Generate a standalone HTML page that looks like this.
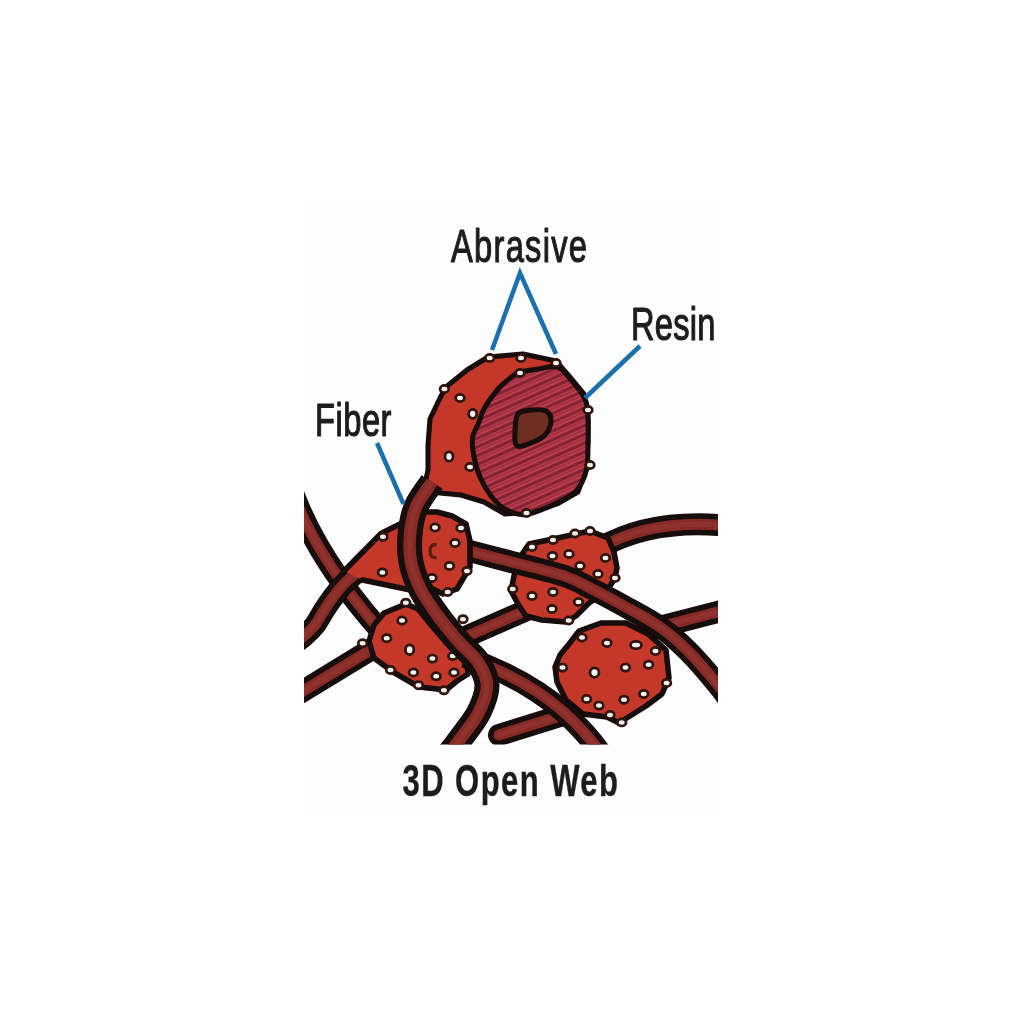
<!DOCTYPE html>
<html><head><meta charset="utf-8"><style>
html,body{margin:0;padding:0;background:#fff;width:1024px;height:1024px;overflow:hidden}
svg{display:block;font-family:"Liberation Sans",sans-serif}
</style></head><body>
<svg width="1024" height="1024" viewBox="0 0 1024 1024">
<defs><clipPath id="cl"><rect x="304" y="200" width="414" height="544.5"/></clipPath><filter id="soft" x="-5%" y="-5%" width="110%" height="110%"><feGaussianBlur stdDeviation="0.65"/></filter><pattern id="hatch" patternUnits="userSpaceOnUse" width="8" height="8" patternTransform="rotate(-24)"><rect width="8" height="8" fill="#bb3c4c"/><rect y="1" width="8" height="3" fill="#7e1f2e" opacity="0.9"/><rect y="5.2" width="8" height="1.8" fill="#962a3a" opacity="0.8"/></pattern></defs><rect x="304" y="203" width="413" height="613" fill="#fdfdfd"/><g filter="url(#soft)"><g clip-path="url(#cl)"><path d="M284,465 Q305,545 380,630" fill="none" stroke="#170707" stroke-width="22" stroke-linecap="butt"/><path d="M284,465 Q305,545 380,630" fill="none" stroke="#862c28" stroke-width="11" stroke-linecap="butt"/><path d="M284,465 Q305,545 380,630" fill="none" stroke="#93352f" stroke-width="5" stroke-linecap="butt" opacity="0.7"/><path d="M290,699 L380,644" fill="none" stroke="#170707" stroke-width="22" stroke-linecap="butt"/><path d="M290,699 L380,644" fill="none" stroke="#862c28" stroke-width="11" stroke-linecap="butt"/><path d="M290,699 L380,644" fill="none" stroke="#93352f" stroke-width="5" stroke-linecap="butt" opacity="0.7"/><path d="M440,648 L527,610" fill="none" stroke="#170707" stroke-width="22" stroke-linecap="butt"/><path d="M440,648 L527,610" fill="none" stroke="#862c28" stroke-width="11" stroke-linecap="butt"/><path d="M440,648 L527,610" fill="none" stroke="#93352f" stroke-width="5" stroke-linecap="butt" opacity="0.7"/><path d="M600,548 Q650,519 725,525.5" fill="none" stroke="#170707" stroke-width="22" stroke-linecap="butt"/><path d="M600,548 Q650,519 725,525.5" fill="none" stroke="#862c28" stroke-width="11" stroke-linecap="butt"/><path d="M600,548 Q650,519 725,525.5" fill="none" stroke="#93352f" stroke-width="5" stroke-linecap="butt" opacity="0.7"/><path d="M640,632 L725,610" fill="none" stroke="#170707" stroke-width="22" stroke-linecap="butt"/><path d="M640,632 L725,610" fill="none" stroke="#862c28" stroke-width="11" stroke-linecap="butt"/><path d="M640,632 L725,610" fill="none" stroke="#93352f" stroke-width="5" stroke-linecap="butt" opacity="0.7"/><path d="M499,735 Q525,727 560,716" fill="none" stroke="#170707" stroke-width="22" stroke-linecap="round"/><path d="M499,735 Q525,727 560,716" fill="none" stroke="#862c28" stroke-width="11" stroke-linecap="round"/><path d="M499,735 Q525,727 560,716" fill="none" stroke="#93352f" stroke-width="5" stroke-linecap="round" opacity="0.7"/><path d="M288.0,648.0 C293.3,644.0 299.5,639.8 304.0,636.0 C308.5,632.2 311.8,629.0 315.0,625.0 C318.2,621.0 320.3,616.2 323.0,612.0 C325.7,607.8 327.7,604.5 331.0,600.0 C334.3,595.5 338.8,589.5 343.0,585.0 C347.2,580.5 351.8,576.5 356.0,573.0 C360.2,569.5 364.0,567.0 368.0,564.0" fill="none" stroke="#170707" stroke-width="22" stroke-linecap="butt"/><path d="M288.0,648.0 C293.3,644.0 299.5,639.8 304.0,636.0 C308.5,632.2 311.8,629.0 315.0,625.0 C318.2,621.0 320.3,616.2 323.0,612.0 C325.7,607.8 327.7,604.5 331.0,600.0 C334.3,595.5 338.8,589.5 343.0,585.0 C347.2,580.5 351.8,576.5 356.0,573.0 C360.2,569.5 364.0,567.0 368.0,564.0" fill="none" stroke="#862c28" stroke-width="11" stroke-linecap="butt"/><path d="M288.0,648.0 C293.3,644.0 299.5,639.8 304.0,636.0 C308.5,632.2 311.8,629.0 315.0,625.0 C318.2,621.0 320.3,616.2 323.0,612.0 C325.7,607.8 327.7,604.5 331.0,600.0 C334.3,595.5 338.8,589.5 343.0,585.0 C347.2,580.5 351.8,576.5 356.0,573.0 C360.2,569.5 364.0,567.0 368.0,564.0" fill="none" stroke="#93352f" stroke-width="5" stroke-linecap="butt" opacity="0.7"/><path d="M374,625 L384,613 L406,604 L418,609 L431,625 L450,647 L467,664 L468,674 L457,681 L446,690 L419,687 L393,672 L374,658 L369,641 Z" fill="#c4382a" stroke="#170707" stroke-width="5.5" stroke-linejoin="round"/><ellipse cx="402" cy="620.5" rx="4.3" ry="3.6" fill="#f2f0ee" stroke="#2e120c" stroke-width="2.7"/><ellipse cx="386.7" cy="638.2" rx="4.3" ry="3.6" fill="#f2f0ee" stroke="#2e120c" stroke-width="2.7"/><ellipse cx="409.6" cy="649.7" rx="4.2" ry="4.9" fill="#f2f0ee" stroke="#2e120c" stroke-width="2.7"/><ellipse cx="432.4" cy="658.6" rx="4.3" ry="3.6" fill="#f2f0ee" stroke="#2e120c" stroke-width="2.7"/><ellipse cx="452.8" cy="656" rx="4.3" ry="3.6" fill="#f2f0ee" stroke="#2e120c" stroke-width="2.7"/><ellipse cx="436.2" cy="676.3" rx="4.3" ry="3.6" fill="#f2f0ee" stroke="#2e120c" stroke-width="2.7"/><ellipse cx="413.4" cy="672.5" rx="4.3" ry="3.6" fill="#f2f0ee" stroke="#2e120c" stroke-width="2.7"/><ellipse cx="390.5" cy="670" rx="4.3" ry="3.6" fill="#f2f0ee" stroke="#2e120c" stroke-width="2.7"/><ellipse cx="454" cy="672.5" rx="4.3" ry="3.6" fill="#f2f0ee" stroke="#2e120c" stroke-width="2.7"/><ellipse cx="418.5" cy="685.2" rx="4.3" ry="3.6" fill="#f2f0ee" stroke="#2e120c" stroke-width="2.7"/><ellipse cx="443.9" cy="690.3" rx="4.3" ry="3.6" fill="#f2f0ee" stroke="#2e120c" stroke-width="2.7"/><ellipse cx="362.6" cy="643.3" rx="4.3" ry="3.6" fill="#f2f0ee" stroke="#2e120c" stroke-width="2.7"/><ellipse cx="405.8" cy="602.7" rx="4.3" ry="3.6" fill="#f2f0ee" stroke="#2e120c" stroke-width="2.7"/><ellipse cx="463" cy="619.2" rx="4.3" ry="3.6" fill="#f2f0ee" stroke="#2e120c" stroke-width="2.7"/><path d="M529,544 L553,539 L576,534 L590,531 L608,538 L614,552 L617,568 L615,578 L610,586 L600,596 L589,603 L576,616 L566,622 L542,620 L526,616 L518,604 L511,591 L514,576 L518,560 Z" fill="#c4382a" stroke="#170707" stroke-width="5.5" stroke-linejoin="round"/><ellipse cx="552.5" cy="556" rx="4.3" ry="3.6" fill="#f2f0ee" stroke="#2e120c" stroke-width="2.7"/><ellipse cx="569" cy="554" rx="4.3" ry="3.6" fill="#f2f0ee" stroke="#2e120c" stroke-width="2.7"/><ellipse cx="580" cy="566" rx="4.3" ry="3.6" fill="#f2f0ee" stroke="#2e120c" stroke-width="2.7"/><ellipse cx="598" cy="574" rx="4.3" ry="3.6" fill="#f2f0ee" stroke="#2e120c" stroke-width="2.7"/><ellipse cx="605.5" cy="558" rx="4.3" ry="3.6" fill="#f2f0ee" stroke="#2e120c" stroke-width="2.7"/><ellipse cx="615" cy="578" rx="4.3" ry="3.6" fill="#f2f0ee" stroke="#2e120c" stroke-width="2.7"/><ellipse cx="575" cy="533.5" rx="4.3" ry="3.6" fill="#f2f0ee" stroke="#2e120c" stroke-width="2.7"/><ellipse cx="590" cy="531" rx="4.3" ry="3.6" fill="#f2f0ee" stroke="#2e120c" stroke-width="2.7"/><ellipse cx="553" cy="540" rx="4.3" ry="3.6" fill="#f2f0ee" stroke="#2e120c" stroke-width="2.7"/><ellipse cx="532" cy="547" rx="4.3" ry="3.6" fill="#f2f0ee" stroke="#2e120c" stroke-width="2.7"/><ellipse cx="512.7" cy="589" rx="4.3" ry="3.6" fill="#f2f0ee" stroke="#2e120c" stroke-width="2.7"/><ellipse cx="532" cy="596" rx="4.3" ry="3.6" fill="#f2f0ee" stroke="#2e120c" stroke-width="2.7"/><ellipse cx="553" cy="592" rx="4.3" ry="3.6" fill="#f2f0ee" stroke="#2e120c" stroke-width="2.7"/><ellipse cx="578.5" cy="602" rx="4.3" ry="3.6" fill="#f2f0ee" stroke="#2e120c" stroke-width="2.7"/><ellipse cx="552" cy="609" rx="4.3" ry="3.6" fill="#f2f0ee" stroke="#2e120c" stroke-width="2.7"/><ellipse cx="568.7" cy="620.5" rx="4.3" ry="3.6" fill="#f2f0ee" stroke="#2e120c" stroke-width="2.7"/><path d="M569,644 L579,631 L601,623 L626,623 L648,634 L666,650 L669,678 L662,694 L646,706 L630,716 L619,723 L607,717 L583,714 L566,700 L557,682 L555,667 L560,655 Z" fill="#c4382a" stroke="#170707" stroke-width="5.5" stroke-linejoin="round"/><ellipse cx="607" cy="643" rx="4.3" ry="3.6" fill="#f2f0ee" stroke="#2e120c" stroke-width="2.7"/><ellipse cx="636" cy="645" rx="5.5" ry="3.7" fill="#f2f0ee" stroke="#2e120c" stroke-width="2.7"/><ellipse cx="655.5" cy="651" rx="4.3" ry="3.6" fill="#f2f0ee" stroke="#2e120c" stroke-width="2.7"/><ellipse cx="648.6" cy="664.7" rx="4.3" ry="3.6" fill="#f2f0ee" stroke="#2e120c" stroke-width="2.7"/><ellipse cx="625.5" cy="667.6" rx="4.3" ry="3.6" fill="#f2f0ee" stroke="#2e120c" stroke-width="2.7"/><ellipse cx="594.5" cy="672.6" rx="4.5" ry="4.7" fill="#f2f0ee" stroke="#2e120c" stroke-width="2.7"/><ellipse cx="666.6" cy="683" rx="4.3" ry="3.6" fill="#f2f0ee" stroke="#2e120c" stroke-width="2.7"/><ellipse cx="643.75" cy="694" rx="4.3" ry="3.6" fill="#f2f0ee" stroke="#2e120c" stroke-width="2.7"/><ellipse cx="624" cy="699.7" rx="4.3" ry="3.6" fill="#f2f0ee" stroke="#2e120c" stroke-width="2.7"/><ellipse cx="586.6" cy="699" rx="4.3" ry="3.6" fill="#f2f0ee" stroke="#2e120c" stroke-width="2.7"/><ellipse cx="599" cy="705.6" rx="4.3" ry="3.6" fill="#f2f0ee" stroke="#2e120c" stroke-width="2.7"/><ellipse cx="610" cy="715" rx="4.3" ry="3.6" fill="#f2f0ee" stroke="#2e120c" stroke-width="2.7"/><ellipse cx="621.7" cy="722.4" rx="4.3" ry="3.6" fill="#f2f0ee" stroke="#2e120c" stroke-width="2.7"/><ellipse cx="562.5" cy="667.6" rx="4.3" ry="3.6" fill="#f2f0ee" stroke="#2e120c" stroke-width="2.7"/><ellipse cx="582" cy="637.5" rx="4.3" ry="3.6" fill="#f2f0ee" stroke="#2e120c" stroke-width="2.7"/><path d="M462.0,549.0 C474.7,552.3 483.2,554.6 500.0,559.0 C516.8,563.4 547.7,570.5 563.0,575.5 C578.3,580.5 581.8,583.9 592.0,589.0 C602.2,594.1 612.7,599.7 624.0,606.0 C635.3,612.3 649.3,619.5 660.0,627.0 C670.7,634.5 678.3,641.3 688.0,651.0 C697.7,660.7 710.2,675.5 718.0,685.0 C725.8,694.5 729.3,700.3 735.0,708.0" fill="none" stroke="#170707" stroke-width="22" stroke-linecap="butt"/><path d="M462.0,549.0 C474.7,552.3 483.2,554.6 500.0,559.0 C516.8,563.4 547.7,570.5 563.0,575.5 C578.3,580.5 581.8,583.9 592.0,589.0 C602.2,594.1 612.7,599.7 624.0,606.0 C635.3,612.3 649.3,619.5 660.0,627.0 C670.7,634.5 678.3,641.3 688.0,651.0 C697.7,660.7 710.2,675.5 718.0,685.0 C725.8,694.5 729.3,700.3 735.0,708.0" fill="none" stroke="#862c28" stroke-width="11" stroke-linecap="butt"/><path d="M462.0,549.0 C474.7,552.3 483.2,554.6 500.0,559.0 C516.8,563.4 547.7,570.5 563.0,575.5 C578.3,580.5 581.8,583.9 592.0,589.0 C602.2,594.1 612.7,599.7 624.0,606.0 C635.3,612.3 649.3,619.5 660.0,627.0 C670.7,634.5 678.3,641.3 688.0,651.0 C697.7,660.7 710.2,675.5 718.0,685.0 C725.8,694.5 729.3,700.3 735.0,708.0" fill="none" stroke="#93352f" stroke-width="5" stroke-linecap="butt" opacity="0.7"/><path d="M362.5,580 L408,589.5 L425,585 L443,594 L457,589 L470,567 L470,541 L466,524 L452,516 L437,512 L420,512 L400,524 L381,533.5 L344,571 Z" fill="#c4382a"/><path d="M362.5,580 L408,589.5 L425,585 L443,594 L457,589 L470,567 L470,541 L466,524 L452,516 L437,512 L420,512 L400,524 L381,533.5 L344,571" fill="none" stroke="#170707" stroke-width="5.5" stroke-linejoin="round" stroke-linecap="round"/><ellipse cx="435" cy="527.5" rx="4.3" ry="3.6" fill="#f2f0ee" stroke="#2e120c" stroke-width="2.7"/><ellipse cx="461" cy="528" rx="4.3" ry="3.6" fill="#f2f0ee" stroke="#2e120c" stroke-width="2.7"/><ellipse cx="455" cy="543" rx="4.3" ry="3.6" fill="#f2f0ee" stroke="#2e120c" stroke-width="2.7"/><ellipse cx="449.5" cy="566" rx="4.3" ry="3.6" fill="#f2f0ee" stroke="#2e120c" stroke-width="2.7"/><ellipse cx="432" cy="578" rx="4.3" ry="3.6" fill="#f2f0ee" stroke="#2e120c" stroke-width="2.7"/><ellipse cx="447.7" cy="592" rx="4.3" ry="3.6" fill="#f2f0ee" stroke="#2e120c" stroke-width="2.7"/><ellipse cx="467" cy="571" rx="4.3" ry="3.6" fill="#f2f0ee" stroke="#2e120c" stroke-width="2.7"/><ellipse cx="383" cy="536.8" rx="4.3" ry="3.6" fill="#f2f0ee" stroke="#2e120c" stroke-width="2.7"/><ellipse cx="382.4" cy="572.4" rx="4.3" ry="3.6" fill="#f2f0ee" stroke="#2e120c" stroke-width="2.7"/><path d="M436.5,545 Q430,543.5 430,551 Q430,558.5 436.5,557.5" fill="none" stroke="#5e1a10" stroke-width="3.4"/><path d="M465,657 C516,675 563,701 600,752" fill="none" stroke="#170707" stroke-width="22" stroke-linecap="butt"/><path d="M465,657 C516,675 563,701 600,752" fill="none" stroke="#862c28" stroke-width="11" stroke-linecap="butt"/><path d="M465,657 C516,675 563,701 600,752" fill="none" stroke="#93352f" stroke-width="5" stroke-linecap="butt" opacity="0.7"/><path d="M488,357 L523,354 L556,361 L570,377 L584,394 L588,414 L588,442 L586,469 L578,492 L557,504 L533,512 L505,514 L484,502 L461,495 L440,493 L424,488 L428,470 L428,445 L430,419 L440,398 L446,387 L467,370 Z" fill="#c4382a" stroke="#170707" stroke-width="5" stroke-linejoin="round"/><path d="M519.0,372.5 C523.4,371.2 531.5,369.9 538.0,369.0 C544.5,368.1 552.5,365.2 558.0,367.0 C563.5,368.8 566.5,374.7 571.0,380.0 C575.5,385.3 582.2,392.7 585.0,399.0 C587.8,405.3 587.5,411.2 588.0,418.0 C588.5,424.8 588.2,431.5 588.0,440.0 C587.8,448.5 588.4,460.7 586.6,469.0 C584.8,477.3 581.2,484.7 577.0,490.0 C572.8,495.3 567.5,497.3 561.5,500.6 C555.5,503.9 547.5,507.6 541.0,510.0 C534.5,512.4 528.7,515.0 522.5,514.7 C516.3,514.4 509.0,511.5 503.8,508.4 C498.5,505.3 495.0,501.2 491.0,496.0 C487.0,490.8 482.8,483.5 480.0,477.0 C477.2,470.5 475.2,463.5 474.0,457.0 C472.8,450.5 471.7,443.8 472.5,438.0 C473.3,432.2 476.7,427.7 478.8,422.5 C480.8,417.3 481.6,412.8 485.0,407.0 C488.4,401.2 494.6,393.0 499.0,388.0 C503.4,383.0 508.3,379.6 511.6,377.0 C514.9,374.4 514.6,373.8 519.0,372.5 Z" fill="url(#hatch)" stroke="#170707" stroke-width="5" stroke-linejoin="round"/><path d="M518.0,414.0 C520.8,410.3 527.3,410.5 532.0,410.0 C536.7,409.5 542.8,409.2 546.0,411.0 C549.2,412.8 551.2,417.0 551.0,421.0 C550.8,425.0 548.3,431.3 545.0,435.0 C541.7,438.7 535.7,441.2 531.0,443.0 C526.3,444.8 519.7,447.8 517.0,446.0 C514.3,444.2 514.8,437.3 515.0,432.0 C515.2,426.7 515.2,417.7 518.0,414.0 Z" fill="#6e2e20" stroke="#170707" stroke-width="5" stroke-linejoin="round"/><ellipse cx="444.4" cy="389" rx="4.3" ry="3.6" fill="#f2f0ee" stroke="#2e120c" stroke-width="2.7"/><ellipse cx="460" cy="398" rx="4.3" ry="3.6" fill="#f2f0ee" stroke="#2e120c" stroke-width="2.7"/><ellipse cx="472.7" cy="413.8" rx="4.0" ry="4.5" fill="#f2f0ee" stroke="#2e120c" stroke-width="2.7"/><ellipse cx="449" cy="456.5" rx="4.0" ry="4.7" fill="#f2f0ee" stroke="#2e120c" stroke-width="2.7"/><ellipse cx="470" cy="467" rx="4.3" ry="3.6" fill="#f2f0ee" stroke="#2e120c" stroke-width="2.7"/><ellipse cx="489.7" cy="358" rx="4.3" ry="3.6" fill="#f2f0ee" stroke="#2e120c" stroke-width="2.7"/><ellipse cx="521" cy="358" rx="4.3" ry="3.6" fill="#f2f0ee" stroke="#2e120c" stroke-width="2.7"/><ellipse cx="556" cy="363" rx="4.3" ry="3.6" fill="#f2f0ee" stroke="#2e120c" stroke-width="2.7"/><ellipse cx="520" cy="373" rx="4.3" ry="3.6" fill="#f2f0ee" stroke="#2e120c" stroke-width="2.7"/><ellipse cx="588" cy="410" rx="4.3" ry="3.6" fill="#f2f0ee" stroke="#2e120c" stroke-width="2.7"/><ellipse cx="590" cy="465" rx="4.3" ry="3.6" fill="#f2f0ee" stroke="#2e120c" stroke-width="2.7"/><ellipse cx="526.5" cy="513" rx="4.3" ry="3.6" fill="#f2f0ee" stroke="#2e120c" stroke-width="2.7"/><path d="M432.0,482.0 C426.7,490.3 419.7,498.2 416.0,507.0 C412.3,515.8 410.8,525.8 410.0,535.0 C409.2,544.2 409.2,552.8 411.0,562.0 C412.8,571.2 416.0,580.3 421.0,590.0 C426.0,599.7 434.5,611.2 441.0,620.0 C447.5,628.8 453.8,636.0 460.0,643.0 C466.2,650.0 473.5,655.0 478.0,662.0 C482.5,669.0 486.8,676.7 487.0,685.0 C487.2,693.3 483.3,703.2 479.0,712.0 C474.7,720.8 466.2,730.8 461.0,738.0 C455.8,745.2 452.3,749.3 448.0,755.0" fill="none" stroke="#170707" stroke-width="25" stroke-linecap="butt"/><path d="M432.0,482.0 C426.7,490.3 419.7,498.2 416.0,507.0 C412.3,515.8 410.8,525.8 410.0,535.0 C409.2,544.2 409.2,552.8 411.0,562.0 C412.8,571.2 416.0,580.3 421.0,590.0 C426.0,599.7 434.5,611.2 441.0,620.0 C447.5,628.8 453.8,636.0 460.0,643.0 C466.2,650.0 473.5,655.0 478.0,662.0 C482.5,669.0 486.8,676.7 487.0,685.0 C487.2,693.3 483.3,703.2 479.0,712.0 C474.7,720.8 466.2,730.8 461.0,738.0 C455.8,745.2 452.3,749.3 448.0,755.0" fill="none" stroke="#862c28" stroke-width="12.5" stroke-linecap="butt"/><path d="M432.0,482.0 C426.7,490.3 419.7,498.2 416.0,507.0 C412.3,515.8 410.8,525.8 410.0,535.0 C409.2,544.2 409.2,552.8 411.0,562.0 C412.8,571.2 416.0,580.3 421.0,590.0 C426.0,599.7 434.5,611.2 441.0,620.0 C447.5,628.8 453.8,636.0 460.0,643.0 C466.2,650.0 473.5,655.0 478.0,662.0 C482.5,669.0 486.8,676.7 487.0,685.0 C487.2,693.3 483.3,703.2 479.0,712.0 C474.7,720.8 466.2,730.8 461.0,738.0 C455.8,745.2 452.3,749.3 448.0,755.0" fill="none" stroke="#93352f" stroke-width="5" stroke-linecap="butt" opacity="0.7"/></g><path d="M492,350 L520,273 L556,354" fill="none" stroke="#1a6fae" stroke-width="4.5" stroke-linejoin="miter"/><path d="M640,346 L585,398" fill="none" stroke="#1a6fae" stroke-width="4.5"/><path d="M377,443 L403.5,504" fill="none" stroke="#1a6fae" stroke-width="4.5"/><g transform="translate(451,262.2) scale(0.71,1)"><text x="0" y="0" font-size="46" font-weight="normal" textLength="191.5" lengthAdjust="spacing" fill="#1c1c1c" stroke="#1c1c1c" stroke-width="1.0" vector-effect="non-scaling-stroke" stroke-linejoin="round">Abrasive</text></g><g transform="translate(631,339.6) scale(0.71,1)"><text x="0" y="0" font-size="46" font-weight="normal" textLength="119.0" lengthAdjust="spacing" fill="#1c1c1c" stroke="#1c1c1c" stroke-width="1.0" vector-effect="non-scaling-stroke" stroke-linejoin="round">Resin</text></g><g transform="translate(315,435.7) scale(0.71,1)"><text x="0" y="0" font-size="46" font-weight="normal" textLength="107.7" lengthAdjust="spacing" fill="#1c1c1c" stroke="#1c1c1c" stroke-width="1.0" vector-effect="non-scaling-stroke" stroke-linejoin="round">Fiber</text></g><g transform="translate(402.5,795.7) scale(0.69,1)"><text x="0" y="0" font-size="45" font-weight="bold" textLength="312.3" lengthAdjust="spacing" fill="#1c1c1c" stroke="#1c1c1c" stroke-width="0.3" vector-effect="non-scaling-stroke" stroke-linejoin="round">3D Open Web</text></g></g>
</svg>
</body></html>
